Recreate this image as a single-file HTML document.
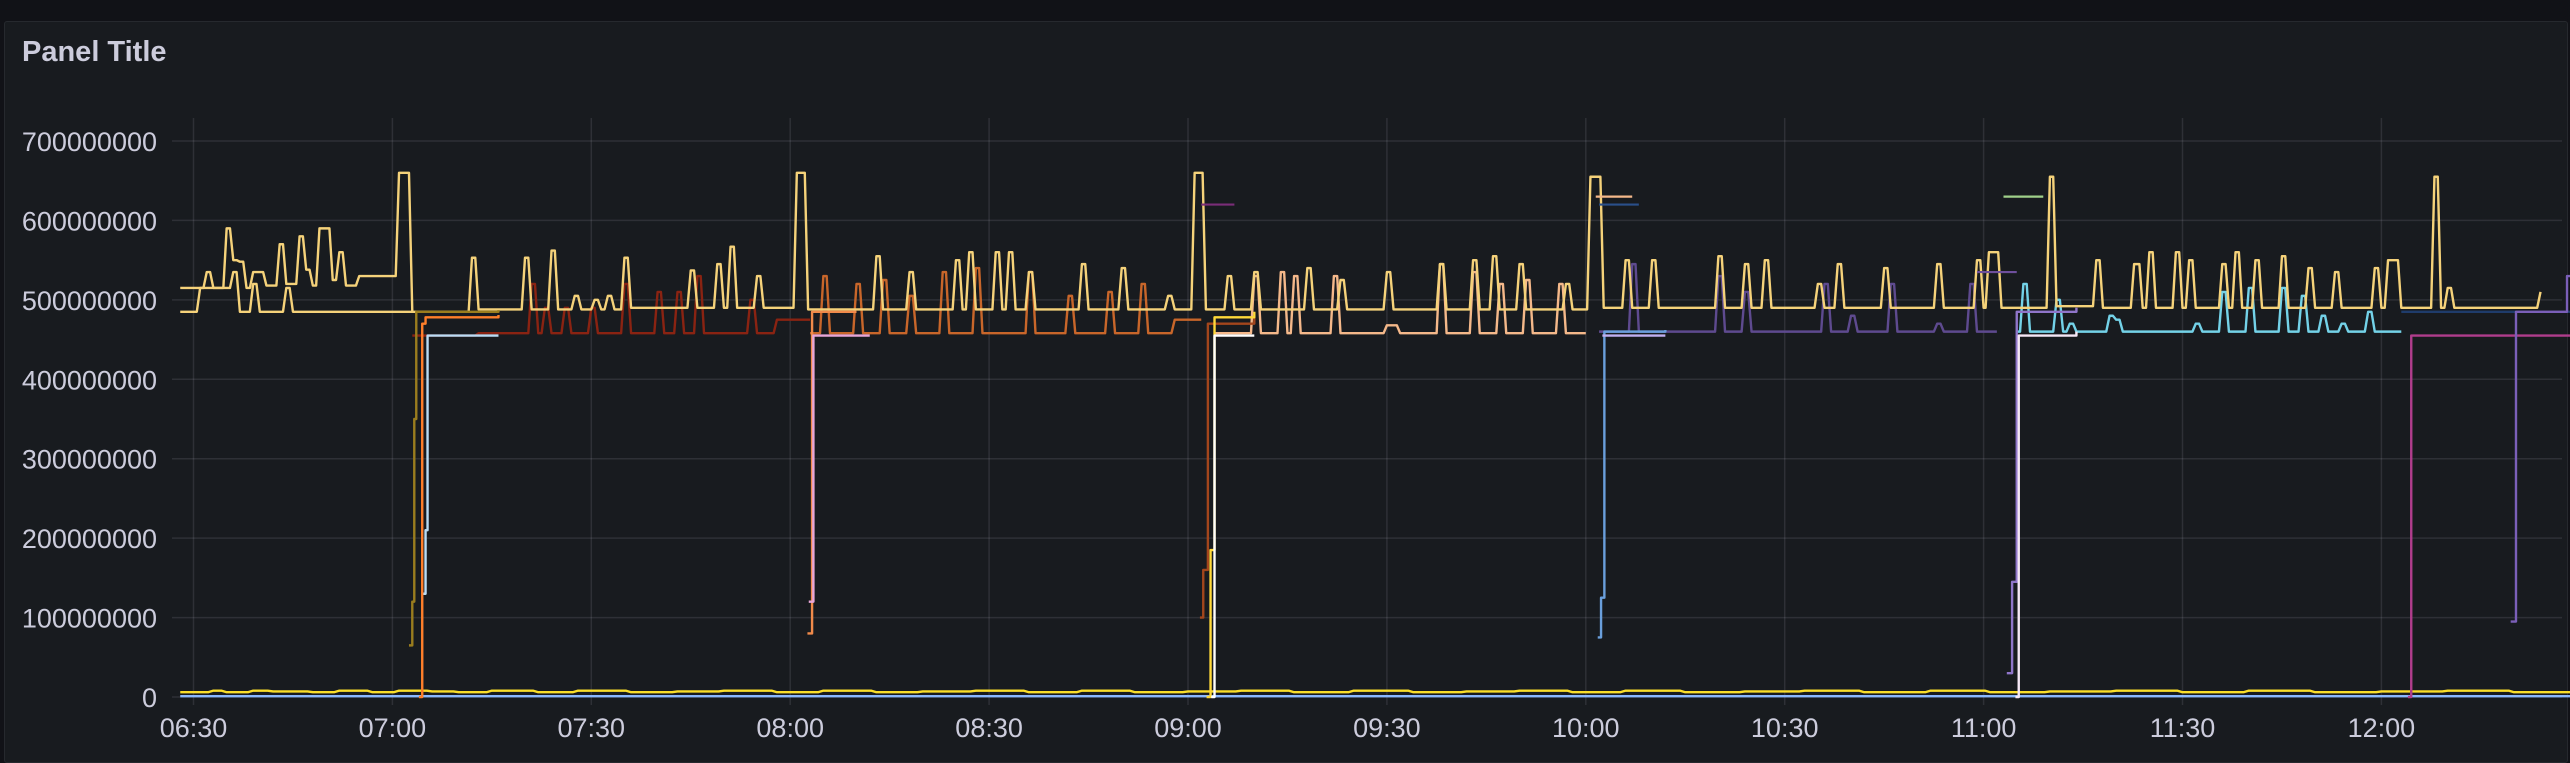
<!DOCTYPE html>
<html><head><meta charset="utf-8"><style>
html,body{margin:0;padding:0;background:#111217;width:2570px;height:746px;overflow:hidden}
#panel{position:absolute;left:4px;top:21px;width:2562px;height:740px;background:#181b1f;border:1px solid #26292e;border-radius:3px}
#title{position:absolute;left:22px;top:36px;font:bold 29px "Liberation Sans",sans-serif;color:#ccccdc}
svg{position:absolute;left:0;top:0}
text{font-family:"Liberation Sans",sans-serif;font-size:27px;fill:#ccccdc}
</style></head><body>
<div id="panel"></div>
<div id="title">Panel Title</div>
<svg id="chart" width="2570" height="746"></svg>
<script>
// time in minutes since 06:30, values in millions
const yTicks=[0,100,200,300,400,500,600,700];
const xTickTimes=[0,30,60,90,120,150,180,210,240,270,300,330];
const xTickLabels=["06:30","07:00","07:30","08:00","08:30","09:00","09:30","10:00","10:30","11:00","11:30","12:00"];

const mainT=[-2,2,3,5,6,7,8,9,11,13,14,16,17,18,19,21,22,23,25,31,33,42,43,50,51,54,55,57.5,58.5,60.5,61.5,62.5,63.5,65,66,75,76,79,80,81,82,85,86,91,92.7,103,104,108,109,115,116,117,118,121,122,123,124,126,127,134,135,140,141,147,148,151,152.7,156,157,160,161,168,169,173,174,180,181,188,189,193,194,196,197,200,201,207,208,210.7,212.7,216,217,220,221,230,231,234,235,237,238,245,246,248,249,255,256,263,264,269,270,270.8,272.7,280,281,287,288,292.7,294,295,296,299,300,301,302,306,307,308,309,311,312,315,316,319,320,323,324,329,330,331,333,338,339,340,341,354];
const mainV=[515,535,515,590,550,548,515,535,518,570,520,580,538,518,590,525,560,518,530,660,485,553,488,553,488,562,488,505,488,500,488,505,488,553,490,537,490,545,490,567,490,530,490,660,488,555,488,535,488,550,488,560,488,560,488,560,488,535,488,545,488,540,488,505,488,660,488,530,488,535,488,540,488,525,488,535,488,545,488,550,488,555,488,545,488,520,488,655,490,550,490,550,490,555,490,545,490,550,490,520,490,545,490,540,490,545,490,550,490,560,490,655,492,550,490,545,490,560,490,560,490,550,490,545,490,560,490,550,490,555,490,540,490,535,490,540,490,550,490,655,490,515,490,510,490,490];
const secondT=[-2,0,1,6,7,9,10,14,15,33];
const secondV=[485,485,515,535,485,520,485,515,485,485];
const redT=[33,43,51,52,53,54,56,57,60,61,65,66,70,71,73,74,76,77,84,85,88,93];
const redV=[455,458,520,458,490,458,490,458,490,458,520,458,510,458,510,458,530,458,500,458,475,475];
const orangeT=[93,95,96,100,101,104,105,108,109,113,114,118,119,126,127,132,133,138,139,143,144,148,152];
const orangeV=[458,530,458,520,458,525,458,505,458,535,458,540,458,535,458,505,458,510,458,520,458,475,475];
const peachT=[154,160,161,164,165,166,167,172,173,180,182,188,189,193,194,197,198,201,202,206,207,210];
const peachV=[458,530,458,535,458,530,458,530,458,468,458,545,458,535,458,520,458,525,458,520,458,458];
const purpleT=[212,217,218,230,231,234,235,246,247,250,251,256,257,263,264,268,269,272];
const purpleV=[460,545,460,530,460,510,460,520,460,480,460,520,460,470,460,520,460,460];
const cyanT=[275,276,277,281,282,283,284,289,290,291,302,303,306,307,310,311,315,316,318,319,321,322,324,325,328,329,333];
const cyanV=[460,520,460,500,460,470,460,480,475,460,470,460,510,460,515,460,515,460,505,460,480,460,470,460,485,460,460];
const oliveT=[32.5,33,33.3,33.6,46];const oliveV=[65,120,350,485,487];
const orange2T=[34,34.5,35,46];const orange2V=[0,470,478,481];
const lblueT=[34.5,35,35.3,46];const lblueV=[130,210,455,455];
const o3T=[92.6,93.3,100];const o3V=[80,485,485];
const pinkT=[92.8,93.5,102];const pinkV=[120,455,455];
const brownT=[151.8,152.3,153,160];const brownV=[100,160,470,478];
const yel2T=[152.8,153.4,154,160];const yel2V=[0,185,478,485];
const whiteT=[153.5,154,160];const whiteV=[0,455,455];
const blueT=[211.8,212.3,212.8,222];const blueV=[75,125,460,462];
const lavT=[212.5,213,222];const lavV=[455,455,455];
const purple2T=[273.5,274.3,275,284];const purple2V=[30,145,485,490];
const white2T=[274.8,275.3,284];const white2V=[0,455,460];
const magT=[334,334.5,361];const magV=[0,455,455];
const navyT=[333,361];const navyV=[485,487];
const purple3T=[349.5,350.3,357,358,359,361];const purple3V=[95,485,485,530,485,520];
const hsegs=[[152,157,620,"#7a2d78"],[211.5,217,630,"#f4b88a"],[212,218,620,"#2a4f8a"],[273,279,630,"#9fd08a"],[269,275,535,"#6e4f9c"]];
const bottomT=[-2,3,5,9,12,18,22,27,31,36,40,45,52,58,66,73,80,88,95,103,110,118,126,134,142,150,158,166,175,184,192,200,208,216,225,234,243,252,262,271,280,290,300,310,320,330,340,350,361];
const bottomV=[6,8,6,8,7,6,8,6,8,7,6,8,6,8,6,7,8,6,8,6,7,8,6,8,6,7,8,6,8,6,7,8,6,8,6,7,8,6,8,6,7,8,6,8,6,7,8,6,6];
const bottom2T=[-2,361];const bottom2V=[1,1];

const L=172,R=2562,T=118,B=697;
const xs=t=>193.5+t*6.63;
const ys=v=>B-v*(556/700);
const svg=document.getElementById('chart');
const NS="http://www.w3.org/2000/svg";
function mk(tag,attrs){const e=document.createElementNS(NS,tag);for(const k in attrs)e.setAttribute(k,attrs[k]);svg.appendChild(e);return e;}
yTicks.forEach(v=>{
  const g=mk('line',{x1:L,x2:R,y1:ys(v),y2:ys(v),stroke:'rgba(204,204,220,0.12)','stroke-width':1.5});
  
  
  const tx=mk('text',{x:157,y:ys(v)+10,'text-anchor':'end'});tx.textContent=String(v*1000000);
  
  
});
xTickTimes.forEach((t,i)=>{
  const g=mk('line',{x1:xs(t),x2:xs(t),y1:T,y2:705,stroke:'rgba(204,204,220,0.12)','stroke-width':1.5});
  
  
  const tx=mk('text',{x:xs(t),y:737,'text-anchor':'middle'});tx.textContent=xTickLabels[i];
  
  
});
// hold each value, then transition with a short slope (soft step)
function step(tArr,vArr,color,name,slope){
  const s=slope||0;
  let d='M'+xs(tArr[0])+','+ys(vArr[0]);
  for(let i=1;i<tArr.length;i++){
    const hold=Math.max(tArr[i-1],tArr[i]-s);
    d+='L'+xs(hold)+','+ys(vArr[i-1])+'L'+xs(tArr[i])+','+ys(vArr[i]);
  }
  const p=mk('path',{d:d,fill:'none',stroke:color,'stroke-width':2.4,'stroke-linejoin':'round'});
  
  
}
step(bottom2T,bottom2V,'#8ab8ff','series-bottom-blue');
step(bottomT,bottomV,'#fade2a','series-bottom-yellow',0.8);
step(redT,redV,'#8a2312','series-red',0.5);
step(orangeT,orangeV,'#c8662a','series-orange',0.5);
step(peachT,peachV,'#f4b88a','series-peach',0.5);
step(purpleT,purpleV,'#5e4a8f','series-purple',0.5);
step(cyanT,cyanV,'#73d2e8','series-cyan',0.5);
step(secondT,secondV,'#f5d27a','series-yellow-2',0.5);
step(mainT,mainV,'#f5d27a','series-yellow-main',0.5);
step(oliveT,oliveV,'#9a7d1e','ramp-olive');
step(lblueT,lblueV,'#b9dcf5','ramp-light-blue');
step(orange2T,orange2V,'#ff7f2a','ramp-orange');
step(o3T,o3V,'#f08a4a','ramp-orange-2');
step(pinkT,pinkV,'#e8a6d8','ramp-pink');
step(brownT,brownV,'#a3461c','ramp-brown');
step(yel2T,yel2V,'#ffd93a','ramp-yellow');
step(whiteT,whiteV,'#ffffff','ramp-white');
step(blueT,blueV,'#6a9fdc','ramp-blue');
step(lavT,lavV,'#c0b0f0','ramp-lavender');
step(purple2T,purple2V,'#8f75c9','ramp-purple');
step(white2T,white2V,'#f6e8f6','ramp-white-2');
step(navyT,navyV,'#1f3c6b','series-navy');
step(magT,magV,'#b03d8c','ramp-magenta');
step(purple3T,purple3V,'#7b5fb8','ramp-purple-2');
hsegs.forEach(s=>{
  const l=mk('line',{x1:xs(s[0]),x2:xs(s[1]),y1:ys(s[2]),y2:ys(s[2]),stroke:s[3],'stroke-width':2.2});
  
  
});
</script>
</body></html>
